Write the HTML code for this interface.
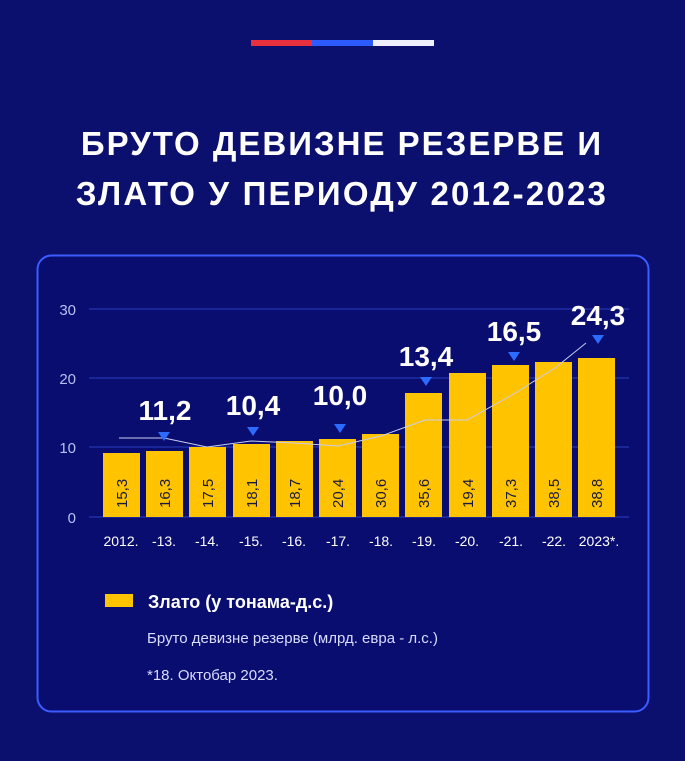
<!DOCTYPE html>
<html><head><meta charset="utf-8"><style>
body{margin:0;width:685px;height:756px;background:#0b0f6e;overflow:hidden;font-family:"Liberation Sans",sans-serif}
</style></head><body>
<svg width="685" height="756" xmlns="http://www.w3.org/2000/svg" font-family="Liberation Sans, sans-serif">
<rect width="685" height="756" fill="#0b0f6e"/>
<rect x="251" y="40" width="61" height="6" fill="#e8303f"/>
<rect x="312" y="40" width="61" height="6" fill="#2c5bff"/>
<rect x="373" y="40" width="61" height="6" fill="#eef0ff"/>
<text x="342" y="155" fill="#fff" font-size="33" font-weight="bold" text-anchor="middle" letter-spacing="2">БРУТО ДЕВИЗНЕ РЕЗЕРВЕ И</text>
<text x="342" y="205" fill="#fff" font-size="33" font-weight="bold" text-anchor="middle" letter-spacing="2.2">ЗЛАТО У ПЕРИОДУ 2012-2023</text>
<rect x="37.5" y="255.5" width="611" height="456" rx="14" fill="#0a0d70" stroke="#3b5cff" stroke-width="2"/>
<g stroke="#2a3ec0" stroke-width="1">
<line x1="89" y1="309" x2="629" y2="309"/><line x1="89" y1="378" x2="629" y2="378"/>
<line x1="89" y1="447" x2="629" y2="447"/><line x1="89" y1="517" x2="629" y2="517"/>
</g>
<g fill="#b8c0f0" font-size="15" text-anchor="end">
<text x="76" y="315">30</text><text x="76" y="384">20</text><text x="76" y="453">10</text><text x="76" y="523">0</text>
</g>
<g fill="#ffc300">
<rect x="103" y="453" width="37" height="64"/><rect x="146" y="451" width="37" height="66"/>
<rect x="189" y="447" width="37" height="70"/><rect x="233" y="444" width="37" height="73"/>
<rect x="276" y="441" width="37" height="76"/><rect x="319" y="439" width="37" height="78"/>
<rect x="362" y="434" width="37" height="83"/><rect x="405" y="393" width="37" height="124"/>
<rect x="449" y="373" width="37" height="144"/><rect x="492" y="365" width="37" height="152"/>
<rect x="535" y="362" width="37" height="155"/><rect x="578" y="358" width="37" height="159"/>
</g>
<g fill="#1a1a40" font-size="15">
<text transform="translate(127,508) rotate(-90)">15,3</text>
<text transform="translate(170,508) rotate(-90)">16,3</text>
<text transform="translate(213,508) rotate(-90)">17,5</text>
<text transform="translate(257,508) rotate(-90)">18,1</text>
<text transform="translate(300,508) rotate(-90)">18,7</text>
<text transform="translate(343,508) rotate(-90)">20,4</text>
<text transform="translate(386,508) rotate(-90)">30,6</text>
<text transform="translate(429,508) rotate(-90)">35,6</text>
<text transform="translate(473,508) rotate(-90)">19,4</text>
<text transform="translate(516,508) rotate(-90)">37,3</text>
<text transform="translate(559,508) rotate(-90)">38,5</text>
<text transform="translate(602,508) rotate(-90)">38,8</text>
</g>
<polyline fill="none" stroke="#c8ccee" stroke-width="1" points="119,438 164,438 207,447 251,441 294,443 338,446 381,436 425,420 467,420 512,395 555,368 586,343"/>
<g fill="#2c6bff">
<path d="M158,432h12l-6,9z"/><path d="M247,427h12l-6,9z"/><path d="M334,424h12l-6,9z"/>
<path d="M420,377h12l-6,9z"/><path d="M508,352h12l-6,9z"/><path d="M592,335h12l-6,9z"/>
</g>
<g fill="#fff" font-size="28" font-weight="bold" text-anchor="middle">
<text x="165" y="420">11,2</text><text x="253" y="415">10,4</text><text x="340" y="405">10,0</text>
<text x="426" y="366">13,4</text><text x="514" y="341">16,5</text><text x="598" y="325">24,3</text>
</g>
<g fill="#fff" font-size="14" text-anchor="middle">
<text x="121" y="546">2012.</text><text x="164" y="546">-13.</text><text x="207" y="546">-14.</text>
<text x="251" y="546">-15.</text><text x="294" y="546">-16.</text><text x="338" y="546">-17.</text>
<text x="381" y="546">-18.</text><text x="424" y="546">-19.</text><text x="467" y="546">-20.</text>
<text x="511" y="546">-21.</text><text x="554" y="546">-22.</text><text x="599" y="546">2023*.</text>
</g>
<rect x="105" y="594" width="28" height="13" fill="#ffc300"/>
<text x="148" y="608" fill="#fff" font-size="18" font-weight="bold">Злато (у тонама-д.с.)</text>
<text x="147" y="643" fill="#d8dcff" font-size="15">Бруто девизне резерве (млрд. евра - л.с.)</text>
<text x="147" y="680" fill="#d8dcff" font-size="15">*18. Октобар 2023.</text>
</svg>
</body></html>
